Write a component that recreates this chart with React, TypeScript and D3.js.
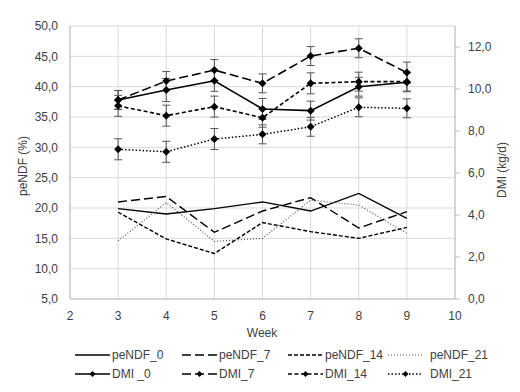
import React from 'react';
import * as d3 from 'd3';

const weeks = [3, 4, 5, 6, 7, 8, 9];

const peNDF0 = [19.9, 19.0, 19.9, 21.0, 19.5, 22.4, 18.3];
const peNDF7 = [21.0, 21.9, 16.0, 19.5, 21.7, 16.7, 19.4];
const peNDF14 = [19.3, 14.9, 12.5, 17.6, 16.1, 15.0, 16.8];
const peNDF21 = [14.6, 20.9, 14.5, 15.0, 21.3, 20.5, 15.8];

const dmi0 = [9.48, 9.95, 10.39, 9.05, 8.97, 10.11, 10.32];
const dmi7 = [9.48, 10.38, 10.9, 10.27, 11.57, 11.94, 10.78];
const dmi14 = [9.2, 8.73, 9.16, 8.63, 10.27, 10.35, 10.35];
const dmi21 = [7.13, 7.01, 7.62, 7.84, 8.2, 9.13, 9.08];

const dmi0Err = [0.45, 0.55, 0.5, 0.5, 0.45, 0.45, 0.45];
const dmi7Err = [0.45, 0.45, 0.5, 0.45, 0.45, 0.45, 0.5];
const dmi14Err = [0.5, 0.5, 0.5, 0.45, 0.5, 0.45, 0.45];
const dmi21Err = [0.5, 0.5, 0.5, 0.45, 0.45, 0.45, 0.45];

const xTicks = [2, 3, 4, 5, 6, 7, 8, 9, 10];
const leftTicks = [5, 10, 15, 20, 25, 30, 35, 40, 45, 50];
const rightTicks = [0, 2, 4, 6, 8, 10, 12];

const fmt = (v: number) => v.toFixed(1).replace('.', ',');

const peSeries = [
  { name: 'peNDF_0', values: peNDF0, dash: 'none', color: '#000', w: 1.4 },
  { name: 'peNDF_7', values: peNDF7, dash: '9,4', color: '#000', w: 1.4 },
  { name: 'peNDF_14', values: peNDF14, dash: '4,2', color: '#000', w: 1.4 },
  { name: 'peNDF_21', values: peNDF21, dash: '1,2', color: '#555', w: 1.2 },
];

const dmiSeries = [
  { name: 'DMI _0', values: dmi0, err: dmi0Err, dash: 'none', w: 1.6 },
  { name: 'DMI_7', values: dmi7, err: dmi7Err, dash: '9,4', w: 1.6 },
  { name: 'DMI_14', values: dmi14, err: dmi14Err, dash: '4,2.5', w: 1.6 },
  { name: 'DMI_21', values: dmi21, err: dmi21Err, dash: '1.5,2', w: 1.5 },
];

const legendX = [75, 182, 288, 388];

export default function App() {
  const W = 520;
  const H = 392;
  const left = 70;
  const right = 455;
  const top = 26;
  const bottom = 299;

  const x = d3.scaleLinear().domain([2, 10]).range([left, right]);
  const yL = d3.scaleLinear().domain([5, 50]).range([bottom, top]);
  const yR = d3.scaleLinear().domain([0, 13]).range([bottom, top]);

  const lineL = d3.line<number>().x((_, i) => x(weeks[i])).y(d => yL(d));
  const lineR = d3.line<number>().x((_, i) => x(weeks[i])).y(d => yR(d));

  const diamond = (cx: number, cy: number, r = 4) =>
    `M${cx},${cy - r}L${cx + r},${cy}L${cx},${cy + r}L${cx - r},${cy}Z`;

  const font = 'Liberation Sans, Arial, sans-serif';

  return (
    <svg width={W} height={H} style={{ position: 'absolute', left: 0, top: 0, background: '#fff' }} fontFamily={font}>
      {/* grid */}
      {leftTicks.map(t => (
        <line key={'h' + t} x1={left} x2={right} y1={yL(t)} y2={yL(t)} stroke="#d9d9d9" strokeWidth={1} />
      ))}
      {xTicks.map(t => (
        <line key={'v' + t} x1={x(t)} x2={x(t)} y1={top} y2={bottom} stroke="#d9d9d9" strokeWidth={1} />
      ))}
      {/* axes */}
      <line x1={left} x2={left} y1={top} y2={bottom} stroke="#bfbfbf" />
      <line x1={right} x2={right} y1={top} y2={bottom} stroke="#bfbfbf" />
      <line x1={left} x2={right} y1={bottom} y2={bottom} stroke="#bfbfbf" />
      {rightTicks.map(t => (
        <line key={'rt' + t} x1={right} x2={right + 5} y1={yR(t)} y2={yR(t)} stroke="#bfbfbf" />
      ))}

      {/* tick labels */}
      {leftTicks.map(t => (
        <text key={'lt' + t} x={58} y={yL(t)} dy="0.35em" textAnchor="end" fontSize={12} fill="#404040">
          {fmt(t)}
        </text>
      ))}
      {rightTicks.map(t => (
        <text key={'rl' + t} x={468} y={yR(t)} dy="0.35em" textAnchor="start" fontSize={12} fill="#404040">
          {fmt(t)}
        </text>
      ))}
      {xTicks.map(t => (
        <text key={'xl' + t} x={x(t)} y={316} dy="0.35em" textAnchor="middle" fontSize={12} fill="#404040">
          {t}
        </text>
      ))}

      {/* axis titles */}
      <text transform="translate(23,166) rotate(-90)" textAnchor="middle" dy="0.35em" fontSize={12} fill="#404040">
        peNDF  (%)
      </text>
      <text transform="translate(502,170) rotate(-90)" textAnchor="middle" dy="0.35em" fontSize={12} fill="#404040">
        DMI (kg/d)
      </text>
      <text x={262} y={333} textAnchor="middle" dy="0.35em" fontSize={12} fill="#404040">
        Week
      </text>

      {/* peNDF lines */}
      {peSeries.map(s => (
        <path key={s.name} d={lineL(s.values) || ''} fill="none" stroke={s.color} strokeWidth={s.w} strokeDasharray={s.dash} />
      ))}

      {/* error bars */}
      {dmiSeries.map(s =>
        s.values.map((v, i) => {
          const cx = x(weeks[i]);
          const y1 = yR(v + s.err[i]);
          const y2 = yR(v - s.err[i]);
          return (
            <g key={s.name + i} stroke="#555" strokeWidth={1}>
              <line x1={cx} x2={cx} y1={y1} y2={y2} />
              <line x1={cx - 4} x2={cx + 4} y1={y1} y2={y1} />
              <line x1={cx - 4} x2={cx + 4} y1={y2} y2={y2} />
            </g>
          );
        })
      )}

      {/* DMI lines */}
      {dmiSeries.map(s => (
        <g key={s.name}>
          <path d={lineR(s.values) || ''} fill="none" stroke="#000" strokeWidth={s.w} strokeDasharray={s.dash} />
          {s.values.map((v, i) => (
            <path key={i} d={diamond(x(weeks[i]), yR(v))} fill="#000" />
          ))}
        </g>
      ))}

      {/* legend */}
      {peSeries.map((s, i) => (
        <g key={'lg' + s.name}>
          <line x1={legendX[i]} x2={legendX[i] + 35} y1={355} y2={355} stroke={s.color} strokeWidth={s.w} strokeDasharray={s.dash} />
          <text x={legendX[i] + 37 + (i === 3 ? 5 : 0)} y={355} dy="0.35em" fontSize={12} fill="#404040">
            {s.name}
          </text>
        </g>
      ))}
      {dmiSeries.map((s, i) => (
        <g key={'lg2' + s.name}>
          <line x1={legendX[i]} x2={legendX[i] + 35} y1={374} y2={374} stroke="#000" strokeWidth={s.w} strokeDasharray={s.dash} />
          <path d={diamond(legendX[i] + 17.5, 374, 3)} fill="#000" />
          <text x={legendX[i] + 37 + (i === 3 ? 5 : 0)} y={374} dy="0.35em" fontSize={12} fill="#404040">
            {s.name}
          </text>
        </g>
      ))}
    </svg>
  );
}
